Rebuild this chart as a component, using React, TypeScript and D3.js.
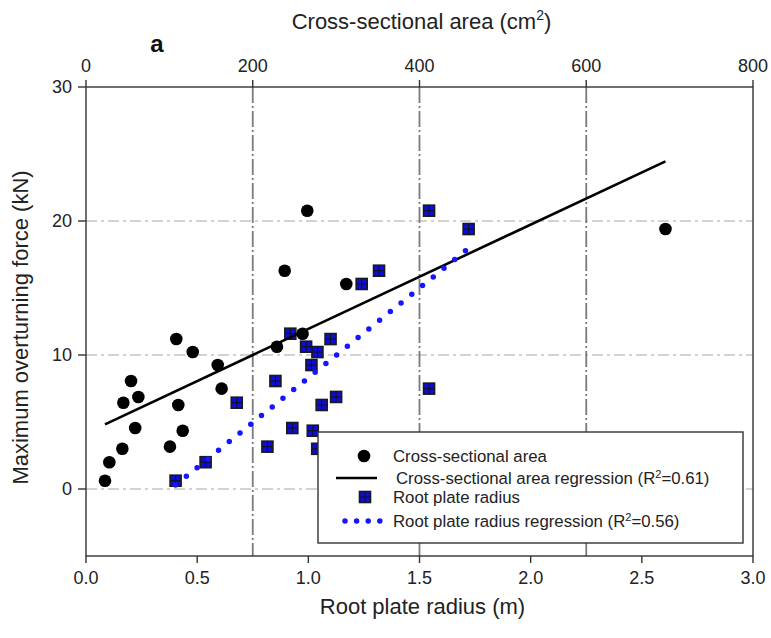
import React from "react";
import * as d3 from "d3";

// Maximum overturning force (kN) for each tree
const force = [0.62, 2.0, 3.0, 4.55, 6.44, 8.06, 6.87, 3.16, 11.19, 6.27, 4.35, 10.22, 9.25, 7.49, 10.62, 16.29, 20.77, 11.59, 15.3, 19.4];
// Cross-sectional area (cm^2)
const area = [22.8, 28, 43.6, 59, 44.8, 54, 62.8, 100.7, 108.3, 110.7, 116, 128, 158, 162.7, 229, 238.3, 265.4, 259.8, 312.2, 695];
// Root plate radius (m)
const radius = [0.403, 0.538, 1.04, 0.928, 0.678, 0.852, 1.125, 0.816, 1.1, 1.06, 1.02, 1.041, 1.014, 1.543, 0.99, 1.318, 1.543, 0.919, 1.24, 1.721];

// Regression coefficients
const areaFit = { slope: 0.0292, intercept: 4.16 };
const radiusFit = { slope: 13.4, intercept: -5.1 };

const xTicks = [0, 0.5, 1.0, 1.5, 2.0, 2.5, 3.0];
const xTopTicks = [0, 200, 400, 600, 800];
const yTicks = [0, 10, 20, 30];
const hGrid = [0, 10, 20];
const vGrid = [0.75, 1.5, 2.25];

const FONT = "'Liberation Sans', Arial, sans-serif";
const AX = "#333";

export default function App() {
  const x = d3.scaleLinear().domain([0, 3]).range([86, 753]);
  const xTop = d3.scaleLinear().domain([0, 800]).range([86, 753]);
  const y = d3.scaleLinear().domain([-5, 30]).range([556, 87]);
  const [x0, x1] = x.range();
  const [yb, yt] = y.range();

  const line = d3.line<[number, number]>().x((d) => d[0]).y((d) => d[1]);
  const aExt = d3.extent(area) as [number, number];
  const rExt = d3.extent(radius) as [number, number];
  const areaLine = line(aExt.map((a) => [xTop(a), y(areaFit.intercept + areaFit.slope * a)] as [number, number]));
  const radLine = line(rExt.map((r) => [x(r), y(radiusFit.intercept + radiusFit.slope * r)] as [number, number]));

  const Square = ({ cx, cy }: { cx: number; cy: number }) => (
    <g>
      <rect x={cx - 5.5} y={cy - 5.5} width={11} height={11} fill="#0d0dd8" stroke="#1a1a1a" strokeWidth={1.6} />
      <line x1={cx} x2={cx} y1={cy - 5} y2={cy + 5} stroke="#111" strokeWidth={1} />
      <line x1={cx - 5} x2={cx + 5} y1={cy} y2={cy} stroke="#111" strokeWidth={1} />
    </g>
  );

  const lg = { x: 318, y: 432, w: 425, h: 111 };
  const rows = [456, 478, 497, 521];

  return (
    <svg width={771} height={638} style={{ position: "absolute", left: 0, top: 0, background: "#fff" }} fontFamily={FONT}>
      <rect width={771} height={638} fill="#fff" />
      {/* grid */}
      {hGrid.map((v) => (
        <line key={"h" + v} x1={x0} x2={x1} y1={y(v)} y2={y(v)} stroke="#c4c4c4" strokeWidth={1.3} strokeDasharray="11 4 3 4" />
      ))}
      {vGrid.map((v) => (
        <line key={"v" + v} x1={x(v)} x2={x(v)} y1={yt} y2={yb} stroke="#7a7a7a" strokeWidth={1.8} strokeDasharray="16 3 2 3" />
      ))}

      {/* frame */}
      <rect x={x0} y={yt} width={x1 - x0} height={yb - yt} fill="none" stroke={AX} strokeWidth={1.4} />

      {/* bottom axis */}
      {xTicks.map((t) => (
        <g key={"xb" + t}>
          <line x1={x(t)} x2={x(t)} y1={yb} y2={yb + 7} stroke={AX} strokeWidth={1.4} />
          <text x={x(t)} y={yb + 28} textAnchor="middle" fontSize={18} fill="#222">{t.toFixed(1)}</text>
        </g>
      ))}
      <text x={(x0 + x1) / 2 + 3} y={614} textAnchor="middle" fontSize={22} fill="#222">Root plate radius (m)</text>

      {/* top axis */}
      {xTopTicks.map((t) => (
        <g key={"xt" + t}>
          <line x1={xTop(t)} x2={xTop(t)} y1={yt} y2={yt - 7} stroke={AX} strokeWidth={1.4} />
          <text x={xTop(t)} y={yt - 15} textAnchor="middle" fontSize={18} fill="#222">{t}</text>
        </g>
      ))}
      <text x={(x0 + x1) / 2 + 2} y={29} textAnchor="middle" fontSize={22} fill="#222">
        Cross-sectional area (cm<tspan dy={-9} fontSize={14}>2</tspan><tspan dy={9}>)</tspan>
      </text>
      <text x={157} y={52} textAnchor="middle" fontSize={24} fontWeight="bold" fill="#111">a</text>

      {/* left axis */}
      {yTicks.map((t) => (
        <g key={"y" + t}>
          <line x1={x0} x2={x0 - 8} y1={y(t)} y2={y(t)} stroke={AX} strokeWidth={1.4} />
          <text x={x0 - 14} y={y(t) + 6} textAnchor="end" fontSize={18} fill="#222">{t}</text>
        </g>
      ))}
      <text transform={`translate(28,${(yt + yb) / 2 + 6}) rotate(-90)`} textAnchor="middle" fontSize={22} fill="#222">
        Maximum overturning force (kN)
      </text>

      {/* data: squares */}
      {radius.map((r, i) => (
        <Square key={"s" + i} cx={x(r)} cy={y(force[i])} />
      ))}
      {/* data: circles */}
      {area.map((a, i) => (
        <circle key={"c" + i} cx={xTop(a)} cy={y(force[i])} r={6.3} fill="#000" />
      ))}
      {/* regressions */}
      <path d={areaLine || ""} stroke="#000" strokeWidth={2.6} fill="none" />
      <path d={radLine || ""} stroke="#1515ff" strokeWidth={5.5} strokeLinecap="round" strokeDasharray="0 13.8" fill="none" />

      {/* legend */}
      <rect x={lg.x} y={lg.y} width={lg.w} height={lg.h} fill="#fff" stroke={AX} strokeWidth={1.4} />
      <circle cx={364} cy={rows[0]} r={6.3} fill="#000" />
      <line x1={336} x2={377} y1={rows[1]} y2={rows[1]} stroke="#000" strokeWidth={2.6} />
      <Square cx={365} cy={rows[2]} />
      <line x1={345} x2={380} y1={rows[3]} y2={rows[3]} stroke="#1515ff" strokeWidth={5.5} strokeLinecap="round" strokeDasharray="0 11.6" />
      <g fontSize={16.8} fill="#222">
        <text x={393} y={rows[0] + 6}>Cross-sectional area</text>
        <text x={396} y={rows[1] + 6}>
          Cross-sectional area regression (R<tspan dy={-6} fontSize={11}>2</tspan><tspan dy={6}>=0.61)</tspan>
        </text>
        <text x={393} y={rows[2] + 6}>Root plate radius</text>
        <text x={393} y={rows[3] + 6}>
          Root plate radius regression (R<tspan dy={-6} fontSize={11}>2</tspan><tspan dy={6}>=0.56)</tspan>
        </text>
      </g>
    </svg>
  );
}
